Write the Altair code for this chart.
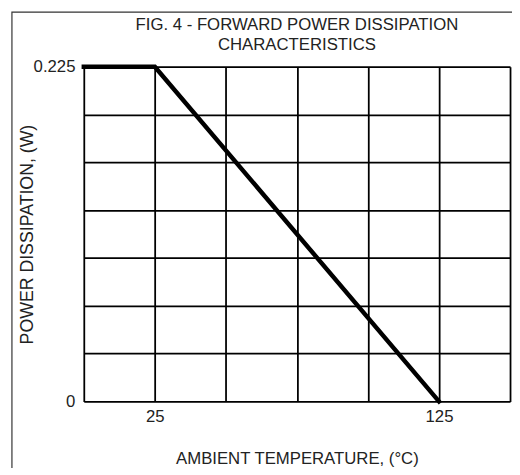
import altair as alt
import pandas as pd

# Derating curve
temp_c = [0, 25, 125]
power_w = [0.225, 0.225, 0.0]

# Axis grid / tick values
x_grid_values = [0, 25, 50, 75, 100, 125, 150]
x_labelled = [25, 125]
y_grid_values = [0, 0.03214, 0.06429, 0.09643, 0.12857, 0.16071, 0.19286, 0.225]
y_labels = ["0", "0.225"]

FONT = "Liberation Sans"
TXT = "#222222"

df = pd.DataFrame({"temp": temp_c, "power": power_w})

W, H = 433, 340

x_axis = alt.Axis(
    values=x_grid_values,
    labelExpr="(datum.value == 25 || datum.value == 125) ? datum.label : ''",
    grid=True, gridColor="black", gridWidth=1.8, gridOpacity=1,
    ticks=False, domain=False,
    labelFont=FONT, labelFontSize=17, labelColor=TXT, labelPadding=7,
    title="AMBIENT TEMPERATURE, (°C)",
    titleFont=FONT, titleFontSize=17, titleFontWeight="normal", titleColor=TXT,
    titlePadding=27,
)
y_axis = alt.Axis(
    values=y_grid_values,
    labelExpr="datum.value == 0 ? '0' : (datum.value > 0.224 ? '0.225' : '')",
    grid=True, gridColor="black", gridWidth=1.8, gridOpacity=1,
    ticks=False, domain=False,
    labelFont=FONT, labelFontSize=17, labelColor=TXT, labelPadding=9,
    title="POWER  DISSIPATION, (W)",
    titleFont=FONT, titleFontSize=18, titleFontWeight="normal", titleColor=TXT,
    titleX=-57, titleY=H / 2, titleAngle=270, titleBaseline="middle", titleAlign="center",
)

line = alt.Chart(df).mark_line(color="black", strokeWidth=4.5, strokeCap="square").encode(
    x=alt.X("temp:Q", scale=alt.Scale(domain=[0, 150], nice=False), axis=x_axis),
    y=alt.Y("power:Q", scale=alt.Scale(domain=[0, 0.225], nice=False, zero=True), axis=y_axis),
)

frame = alt.Chart(alt.Data(values=[{}])).mark_rect(
    fill=None, stroke="#333333", strokeWidth=1.2
).encode(
    x=alt.value(-73), x2=alt.value(W + 30),
    y=alt.value(-55.5), y2=alt.value(H + 120),
)

chart = alt.layer(frame, line).properties(
    width=W, height=H,
    autosize=alt.AutoSizeParams(type="none"),
    padding={"left": 77, "top": 56, "right": 2, "bottom": 64},
    title=alt.TitleParams(
        text=["FIG. 4 - FORWARD POWER DISSIPATION", "CHARACTERISTICS"],
        font=FONT, fontSize=17, fontWeight="normal", color=TXT,
        anchor="middle", frame="group", offset=-43, lineHeight=20,
    ),
).configure_view(
    stroke="black", strokeWidth=4,
).configure(background="white")

chart.save("out.html", embed_options={"renderer": "svg", "actions": False})
